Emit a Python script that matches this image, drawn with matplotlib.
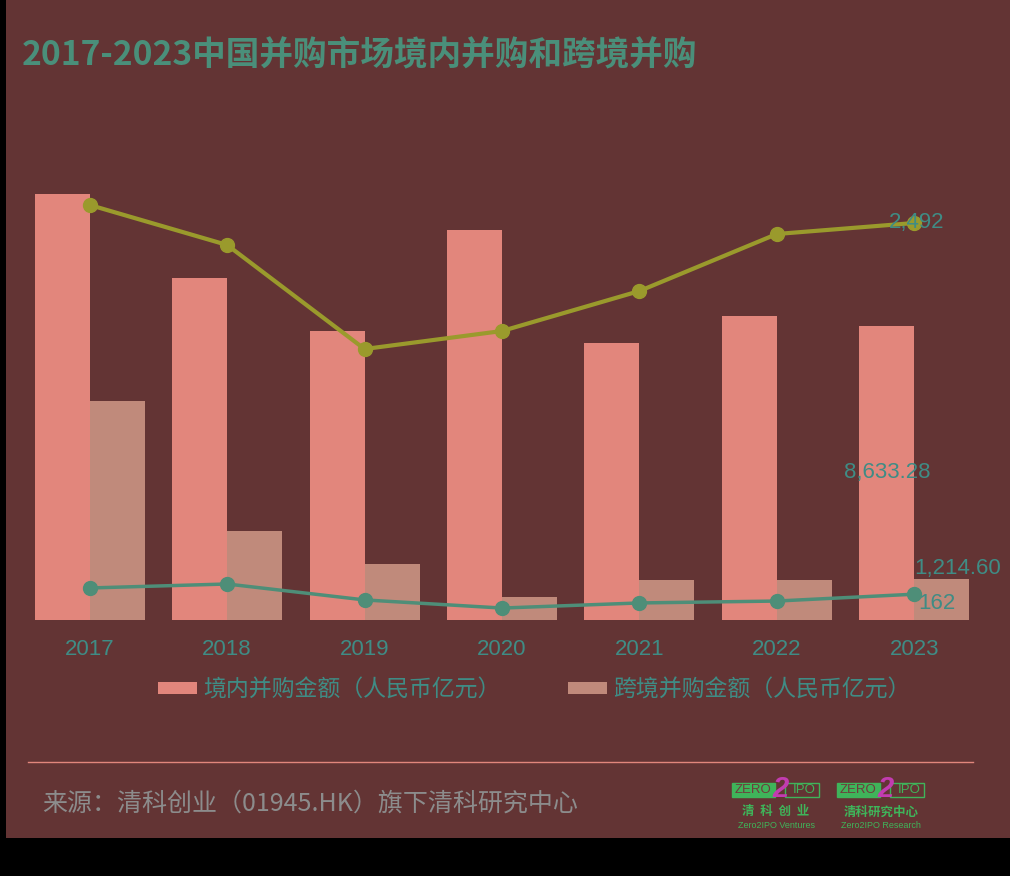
import matplotlib.pyplot as plt
import matplotlib.patches as mpatches
import numpy as np

plt.rcParams['font.family'] = ['Liberation Sans', 'Noto Sans CJK SC', 'DejaVu Sans']

years = ['2017', '2018', '2019', '2020', '2021', '2022', '2023']
domestic_amt = [12510, 10040, 8490, 11450, 8130, 8930, 8633.28]   # 境内并购金额
cross_amt = [6430, 2610, 1640, 680, 1180, 1180, 1214.60]         # 跨境并购金额
domestic_cnt = [2605, 2354, 1701, 1814, 2065, 2423, 2492]        # olive line
cross_cnt = [201, 226, 126, 75, 107, 119, 162]                   # teal line

legend_labels = ['境内并购金额（人民币亿元）', '跨境并购金额（人民币亿元）']
title = '2017-2023中国并购市场境内并购和跨境并购'
source = '来源：清科创业（01945.HK）旗下清科研究中心'

BG = '#633434'
C_DOM = '#E2867C'
C_CROSS = '#C08A7B'
C_OLIVE = '#9A9A2C'
C_TEAL = '#4E8E78'
C_TXT = '#3F8C85'

W, H = 1010, 876
fig = plt.figure(figsize=(W / 100, H / 100), dpi=100)
fig.patch.set_facecolor('black')
fig.patches.append(mpatches.Rectangle((6 / W, 1 - 838 / H), 1 - 6 / W, 838 / H,
                                      transform=fig.transFigure, facecolor=BG,
                                      edgecolor='none', zorder=-10))

def px(l, t, r, b):
    return [l / W, 1 - b / H, (r - l) / W, (b - t) / H]

ax = fig.add_axes(px(21, 180, 983, 620))
ax.set_facecolor('none')
x = np.arange(len(years))
bw = 0.4
b1 = ax.bar(x - bw / 2, domestic_amt, bw, color=C_DOM, label=legend_labels[0], zorder=2)
b2 = ax.bar(x + bw / 2, cross_amt, bw, color=C_CROSS, label=legend_labels[1], zorder=2)
ax.set_xlim(-0.5, len(years) - 0.5)
ax.set_ylim(0, 440 * 29.36)
for s in ax.spines.values():
    s.set_visible(False)
ax.set_yticks([])
ax.set_xticks(x)
ax.set_xticklabels(years, fontsize=16, color=C_TXT)
ax.tick_params(axis='x', length=0, pad=14)

ax2 = ax.twinx()
ax2.set_ylim(0, 440 * 6.277)
ax2.plot(x, domestic_cnt, color=C_OLIVE, lw=3, marker='o', ms=10, zorder=3)
ax2.plot(x, cross_cnt, color=C_TEAL, lw=2.5, marker='o', ms=10, zorder=3)
ax2.set_yticks([])
for s in ax2.spines.values():
    s.set_visible(False)

# data labels for the last year
i = len(years) - 1
ax.text(x[i] - bw / 2, domestic_amt[i] / 2, '{:,.2f}'.format(domestic_amt[i]),
        ha='center', va='center', fontsize=16, color=C_TXT, zorder=5)
ax.text(x[i], cross_amt[i], '{:,.2f}'.format(cross_amt[i]),
        ha='left', va='bottom', fontsize=16, color=C_TXT, zorder=5)
ax2.text(x[i] + 0.02, domestic_cnt[i], '{:,}'.format(domestic_cnt[i]),
         ha='center', va='center', fontsize=16, color=C_TXT, zorder=5)
ax2.text(x[i] + 0.03, cross_cnt[i] - 60, '{:,}'.format(cross_cnt[i]),
         ha='left', va='center', fontsize=16, color=C_TXT, zorder=5)

leg = fig.legend(handles=[b1, b2], loc='center', bbox_to_anchor=(534 / W, 1 - 690 / H),
                 ncol=2, frameon=False, handlelength=1.7, handleheight=0.45,
                 handletextpad=0.26, columnspacing=2.95,
                 prop={'family': ['Noto Sans CJK SC'], 'size': 16.5})
for t in leg.get_texts():
    t.set_color(C_TXT)

fig.text(22 / W, 1 - 56 / H, title, fontsize=24.2, fontweight='bold', color='#4A8F7A',
         ha='left', va='center', family=['Noto Sans CJK SC'])

fig.add_artist(plt.Line2D([28 / W, 973 / W], [1 - 762 / H] * 2, color=C_DOM, lw=1))
fig.text(42 / W, 1 - 804 / H, source, fontsize=18, color='#8C8C8C',
         ha='left', va='center', family=['Noto Sans CJK SC'])

# logos
def logo(cx, sub, eng):
    g = '#3FB45A'
    fig.patches.append(mpatches.Rectangle(((cx - 44) / W, 1 - 797 / H), 43 / W, 14 / H,
                                          transform=fig.transFigure, facecolor=g,
                                          edgecolor=g, lw=1, zorder=3))
    fig.patches.append(mpatches.Rectangle(((cx + 9) / W, 1 - 797 / H), 34 / W, 14 / H,
                                          transform=fig.transFigure, facecolor='none',
                                          edgecolor=g, lw=1, zorder=3))
    fig.text((cx - 23) / W, 1 - 790 / H, 'ZERO', fontsize=9.5, color='#6E3C3C',
             ha='center', va='center', zorder=4)
    fig.text((cx + 5) / W, 1 - 789 / H, '2', fontsize=21, fontweight='bold', color='#C23CB0',
             ha='center', va='center', zorder=4, style='italic')
    fig.text((cx + 28) / W, 1 - 790 / H, 'IPO', fontsize=9.5, color=g,
             ha='center', va='center', zorder=4)
    fig.text(cx / W, 1 - 812 / H, sub, fontsize=9, color=g, ha='center', va='center',
             family=['Noto Sans CJK SC'], fontweight='bold')
    fig.text(cx / W, 1 - 826 / H, eng, fontsize=6.5, color=g, ha='center', va='center')

logo(776, '清  科  创  业', 'Zero2IPO Ventures')
logo(881, '清科研究中心', 'Zero2IPO Research')

fig.savefig('out.png', dpi=100, facecolor=fig.get_facecolor())
